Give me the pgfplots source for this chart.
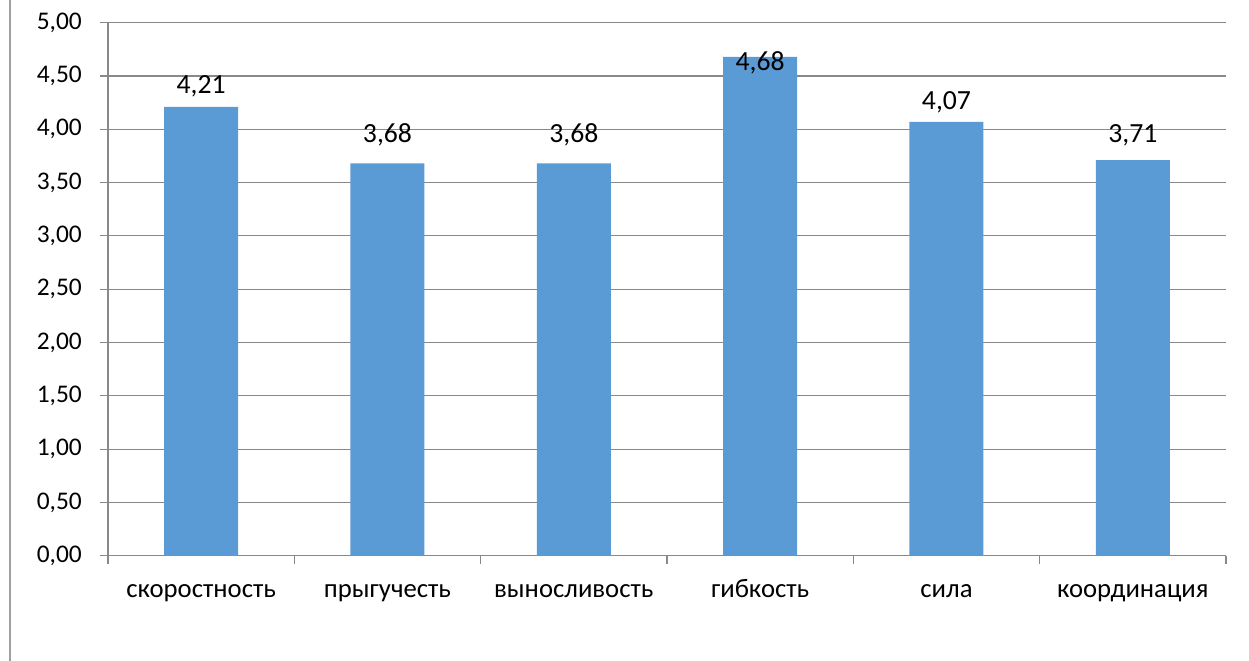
\documentclass[border=0pt]{standalone}
\usepackage{fontspec}
\setmainfont{Carlito}
\usepackage{pgfplots}
\usepackage{pgfplotstable}
\pgfplotsset{compat=1.18}
\definecolor{barblue}{HTML}{5B9BD5}
\definecolor{gridgray}{HTML}{898989}
\definecolor{framegray}{HTML}{A0A0A0}

% x: category position, y: value, ly: where the value label sits
\pgfplotstableread{
x y ly
1 4.21 4.34
2 3.68 3.88
3 3.68 3.88
4 4.68 4.55
5 4.07 4.19
6 3.71 3.88
}\datatable

\newcommand{\tickfont}{\fontsize{25.5}{30}\selectfont}
\newcommand{\catfont}{\fontsize{26.8}{31}\selectfont}
\newcommand{\valfont}{\fontsize{27.8}{32}\selectfont}

\begin{document}
\begin{tikzpicture}
\useasboundingbox (-108bp,-105.3bp) rectangle (1141bp,555.7bp);
\draw[framegray, line width=1.2bp] (-98bp,-105.3bp) -- (-98bp,555.7bp);
\begin{axis}[
    at={(0,0)}, anchor=south west,
    scale only axis,
    width=1118bp, height=533bp,
    xmin=0.5, xmax=6.5, ymin=0, ymax=5,
    axis lines*=left,
    axis line style={gridgray, line width=1.2bp},
    ytick={0,0.5,...,5},
    ymajorgrids,
    major grid style={gridgray, line width=1.2bp},
    tick align=outside,
    major tick length=8bp,
    tick style={gridgray, line width=1.2bp},
    xtick={0.5,1.5,...,6.5},
    xticklabels={},
    extra x ticks={1,2,3,4,5,6},
    extra x tick labels={скоростность,прыгучесть,выносливость,гибкость,сила,координация},
    extra x tick style={major tick length=0pt, xmajorgrids=false,
        tick label style={anchor=base, yshift=-42bp, font=\catfont}},
    /pgf/number format/assume math mode=true,
    yticklabel={\pgfmathprintnumber[fixed,fixed zerofill,precision=2,use comma]{\tick}},
    yticklabel style={anchor=east, inner sep=0pt, xshift=-18bp, font=\tickfont},
    clip=false,
]
\addplot[ybar, bar width=74bp, fill=barblue, draw=none]
    table[x=x, y=y] {\datatable};
\addplot[draw=none, mark=none, point meta=explicit,
    nodes near coords={\pgfmathprintnumber[fixed,fixed zerofill,precision=2,use comma]{\pgfplotspointmeta}},
    nodes near coords style={anchor=base, inner sep=0pt, font=\valfont, text=black}]
    table[x=x, y=ly, meta=y] {\datatable};
\end{axis}
\end{tikzpicture}
\end{document}
